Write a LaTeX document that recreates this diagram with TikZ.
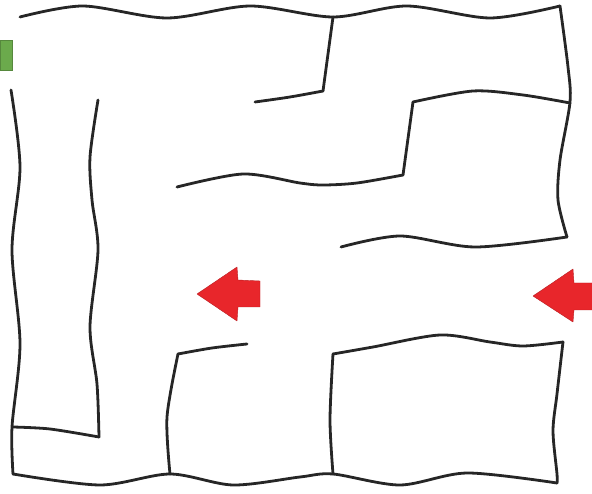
\documentclass[tikz,border=0pt]{standalone}
\usetikzlibrary{calc}
\definecolor{arrowred}{HTML}{E8262B}
\definecolor{startgreen}{HTML}{6BAA4C}

\begin{document}
\begin{tikzpicture}[
    x=1pt, y=-1pt,
    wall/.style={line width=2.8pt, line cap=round, line join=round,
                 black!85},
    hint/.style={fill=arrowred, draw=arrowred!80!black, line width=0.4pt,
                 line join=round},
    start/.style={fill=startgreen, draw=startgreen!80!black, line width=0.4pt}
  ]
  \useasboundingbox (0,0) rectangle (592,494);

  % outer walls
  \draw[wall] plot[smooth] coordinates {(20,17) (83,6) (167,18) (250,6)
      (333,17) (407,6) (490,18) (560,6)};
  \draw[wall] plot[smooth] coordinates {(560,6) (568,67) (570,102)
      (560,160) (558,200) (567,237)};
  \draw[wall] plot[smooth] coordinates {(11,90) (20,167) (12,250)
      (20,344) (12,427) (13,474)};
  \draw[wall] plot[smooth] coordinates {(13,474) (100,485) (170,474)
      (233,485) (300,477) (333,474) (400,485) (467,473) (557,483)};
  \draw[wall] plot[smooth] coordinates {(563,342) (557,394) (553,431)
      (557,474) (557,483)};

  % inner walls, left part
  \draw[wall] plot[smooth] coordinates {(98,100) (90,157) (92,200)
      (98,250) (90,327) (97,384) (99,437)};
  \draw[wall] plot[smooth] coordinates {(99,437) (50,429) (13,427)};
  \draw[wall] plot[smooth] coordinates {(170,474) (167,417) (178,354)};
  \draw[wall] plot[smooth] coordinates {(178,354) (212,348) (247,344)};

  % inner walls, top part
  \draw[wall] (333,17) -- (323,91);
  \draw[wall] plot[smooth] coordinates {(323,91) (290,97) (255,102)};
  \draw[wall] plot[smooth] coordinates {(570,103) (523,95) (473,91)
      (413,102)};
  \draw[wall] (413,102) -- (403,175);
  \draw[wall] plot[smooth] coordinates {(403,175) (357,183) (323,185)
      (300,183) (243,174) (177,187)};
  \draw[wall] plot[smooth] coordinates {(341,247) (400,236) (475,247)
      (567,237)};

  % lower right box
  \draw[wall] plot[smooth] coordinates {(333,474) (330,420) (333,354)};
  \draw[wall] plot[smooth] coordinates {(333,354) (373,347) (440,335)
      (490,342) (523,346) (563,342)};

  % entrance and arrows
  \fill[start] (0,40) rectangle (12,70);
  \filldraw[hint] (197,294) -- (237,267) -- (238,280) -- (260,281)
      -- (260,307) -- (238,307) -- (237,321) -- cycle;
  \filldraw[hint] (533,296) -- (573,269) -- (574,283) -- (594,283)
      -- (594,310) -- (574,310) -- (573,322) -- cycle;
\end{tikzpicture}
\end{document}
